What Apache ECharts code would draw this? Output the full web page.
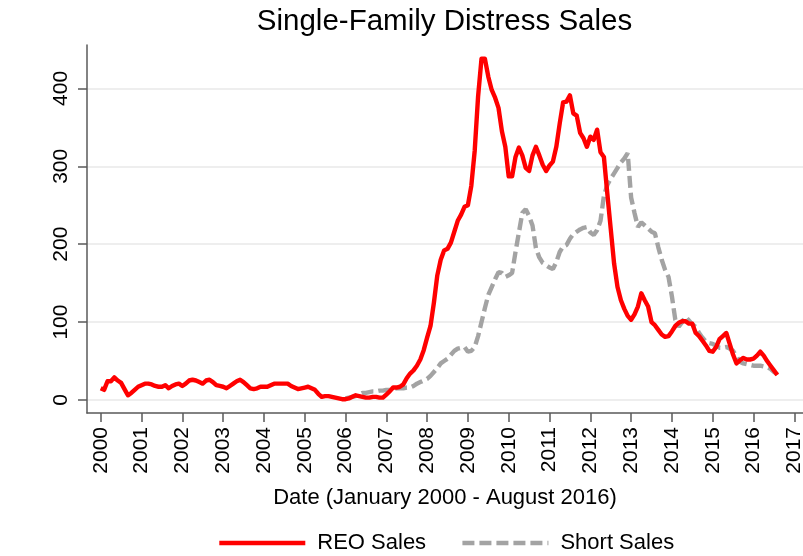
<!DOCTYPE html>
<html>
<head>
<meta charset="utf-8">
<script src="https://cdn.jsdelivr.net/npm/echarts@6/dist/echarts.min.js"></script>
<style>html,body{margin:0;padding:0;background:#fff}#c{width:803px;height:556px}</style>
</head>
<body>
<div id="c"></div>
<script>
// Monthly values, January 2000 - August 2016 (REO), January 2006 - August 2016 (Short Sales)
const reoStartYear = 2000;
const reoSales = [
 15,13,24,24,29,25,22,14,6,9,13,17,
 19,21,21,20,18,17,17,19,15,18,20,21,
 18,21,25,26,25,23,21,25,26,23,19,18,
 17,15,18,21,24,26,23,19,15,14,15,17,
 17,17,19,21,21,21,21,21,18,16,14,15,
 16,17,15,13,8,4,5,5,4,3,2,1,
 1,2,4,6,5,4,3,3,4,4,3,3,
 7,11,16,16,17,20,28,34,38,44,52,64,
 80,95,125,160,180,192,194,202,216,230,238,248,
 250,275,320,390,438,438,415,398,388,375,345,325,
 287,287,312,324,314,298,294,314,325,314,302,294,
 301,306,325,355,382,383,391,368,365,343,336,325,
 338,334,347,318,312,265,220,175,145,128,117,108,
 103,110,120,137,128,120,100,96,90,84,81,82,
 88,95,99,101,101,98,98,86,82,76,70,63,
 62,68,78,82,86,72,58,47,51,54,52,52,
 53,57,62,57,50,44,38,32
];
const shortStartYear = 2006;
const shortSales = [
 2,3,4,5,7,9,9,10,11,11,12,12,
 13,13,14,15,15,15,16,16,18,21,23,25,
 27,31,36,41,47,50,53,58,63,66,67,68,
 62,63,68,82,100,118,135,145,155,164,163,158,
 160,163,190,215,240,245,236,224,195,183,176,173,
 170,168,177,190,197,199,207,213,216,219,221,222,
 215,212,218,230,262,276,284,291,298,305,310,317,
 260,240,222,228,224,220,216,214,196,180,167,158,
 133,103,94,100,107,102,97,94,86,80,75,73,
 72,70,67,67,68,66,63,56,49,47,46,45,
 44,44,44,43,42,40,36,33
];
const yearTicks = [2000,2001,2002,2003,2004,2005,2006,2007,2008,2009,2010,2011,2012,2013,2014,2015,2016,2017];
const valueTicks = [0,100,200,300,400];
const titleText = 'Single-Family Distress Sales';
const xTitle = 'Date (January 2000 - August 2016)';
const seriesNames = ['REO Sales','Short Sales'];

const reoData = reoSales.map((v,i)=>[reoStartYear + i/12, v]);
const shortData = shortSales.map((v,i)=>[shortStartYear + i/12, v]);

const FONT = 'Liberation Sans, Arial, Helvetica, sans-serif';
const chart = echarts.init(document.getElementById('c'), null, {renderer:'canvas'});
chart.setOption({
  animation:false,
  backgroundColor:'#fff',
  textStyle:{fontFamily:FONT},
  graphic:[{
    type:'text', x:444.5, y:22,
    style:{text:titleText, fill:'#000', font:'29.5px ' + FONT, textAlign:'center', textVerticalAlign:'middle'}
  }],
  grid:{left:87, right:0, top:45, bottom:143, containLabel:false, outerBoundsMode:'none'},
  legend:{
    left:212, top:527, itemWidth:86, itemHeight:14, itemGap:34,
    data:seriesNames,
    itemStyle:{color:'transparent', borderWidth:0, opacity:0},
    lineStyle:{width:4.6},
    textStyle:{fontSize:22, color:'#000', fontFamily:FONT, padding:[0,0,0,7]}
  },
  xAxis:{
    type:'value', min:1999.664, max:2017.213,
    name:xTitle, nameLocation:'middle', nameGap:74,
    nameTextStyle:{fontSize:22, color:'#000', fontFamily:FONT},
    axisLine:{show:true, onZero:false, lineStyle:{color:'#5a5a5a', width:1.5}},
    axisTick:{show:true, length:9, customValues:yearTicks, lineStyle:{color:'#5a5a5a', width:1.5}},
    axisLabel:{show:true, rotate:90, margin:14, fontSize:21, color:'#000', customValues:yearTicks, formatter:v=>String(Math.round(v))},
    splitLine:{show:false}
  },
  yAxis:{
    type:'value', min:-16.7, max:455.7,
    axisLine:{show:true, onZero:false, lineStyle:{color:'#5a5a5a', width:1.5}},
    axisTick:{show:true, length:9, customValues:valueTicks, lineStyle:{color:'#5a5a5a', width:1.5}},
    axisLabel:{show:true, rotate:90, margin:15, fontSize:21, color:'#000', customValues:valueTicks, formatter:v=>String(Math.round(v))},
    splitLine:{show:true, lineStyle:{color:'#e8e8e8', width:1.5}}
  },
  series:[
    {name:seriesNames[0], type:'line', data:reoData, symbol:'none', showSymbol:false, z:3,
     lineStyle:{color:'#ff0000', width:4.4, join:'round'}, itemStyle:{color:'#ff0000'}},
    {name:seriesNames[1], type:'line', data:shortData, symbol:'none', showSymbol:false, z:2,
     lineStyle:{color:'#a3a3a3', width:4.4, type:[12,5]}, itemStyle:{color:'#a3a3a3'}}
  ]
});
</script>
</body>
</html>
